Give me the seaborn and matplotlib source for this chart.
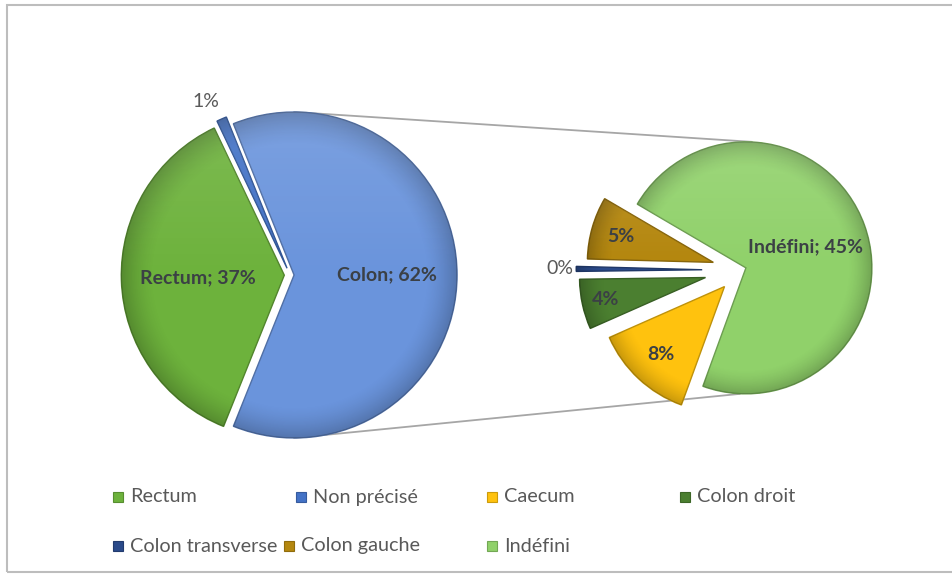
import numpy as np
import matplotlib
matplotlib.use("Agg")
import matplotlib.pyplot as plt
from matplotlib.patches import Rectangle
from matplotlib import colors as mcolors
import seaborn as sns

# ---- data -------------------------------------------------------------
main_labels = ["Rectum", "Non précisé", "Colon"]
sub_labels = ["Caecum", "Colon droit", "Colon transverse", "Colon gauche", "Indéfini"]
sub_values = [8, 4, 0.4, 5, 45]          # share of all cases, %
main_values = [37, 1, sum(sub_values)]   # colon = sum of its sub-sites

legend_labels = ["Rectum", "Non précisé", "Caecum", "Colon droit",
                 "Colon transverse", "Colon gauche", "Indéfini"]

# ---- style --------------------------------------------------------------
sns.set_theme(style="white")
plt.rcParams["font.family"] = ["Lato", "DejaVu Sans"]

palette = {
    "Rectum": "#6DB23C",
    "Non précisé": "#4372C6",
    "Colon": "#6A94DC",
    "Caecum": "#FFC20E",
    "Colon droit": "#4B7F30",
    "Colon transverse": "#2A4A8A",
    "Colon gauche": "#B4870F",
    "Indéfini": "#90D16A",
}

W, H = 953, 576
fig = plt.figure(figsize=(W / 100, H / 100), dpi=100)
ax = fig.add_axes([0, 0, 1, 1])


def Y(y):
    """pixel row (top-down) -> data y (bottom-up)"""
    return H - y


def darker(c, f=0.75):
    r, g, b = mcolors.to_rgb(c)
    return (r * f, g * f, b * f)


total = sum(main_values)

# ---- main pie -------------------------------------------------------------
C1, R1 = (290, Y(275)), 163
colon_span = main_values[2] / total * 360
explode1 = [0.035, 0.045, 0.025]
w1, _ = ax.pie(main_values, colors=[palette[l] for l in main_labels],
               startangle=360 - colon_span / 2, counterclock=False,
               radius=R1, center=C1, explode=[e * R1 for e in explode1],
               frame=True, wedgeprops=dict(linewidth=1.0))

# ---- breakdown pie ----------------------------------------------------------
C2, R2 = (740, Y(270)), 126
explode2 = [0.18, 0.28, 0.30, 0.22, 0.05]
w2, _ = ax.pie(sub_values, colors=[palette[l] for l in sub_labels],
               startangle=250, counterclock=False,
               radius=R2, center=C2, explode=[e * R2 for e in explode2],
               frame=True, wedgeprops=dict(linewidth=1.0))

for w, lab in zip(list(w1) + list(w2), main_labels + sub_labels):
    w.set_edgecolor(darker(palette[lab]))
    w.set_zorder(3)

# soft rim shading and top highlight on each wedge
yy, xx = np.mgrid[0:H, 0:W]
for wedges, R in ((w1, R1), (w2, R2)):
    for w in wedges:
        ex, ey = w.center
        rr = np.hypot(xx - ex, (H - yy) - ey) / R
        alpha = np.clip((rr - 0.80) / 0.20, 0, 1) ** 1.5 * 0.22
        top = np.clip(((H - yy) - ey) / R, -1, 1)
        img = np.zeros((H, W, 4))
        img[..., 3] = alpha
        hl = np.zeros((H, W, 4))
        hl[..., :3] = 1
        hl[..., 3] = np.clip(top, 0, 1) * 0.12
        for im in (img, hl):
            art = ax.imshow(im, extent=(0, W, 0, H), origin="upper",
                            zorder=3.5, interpolation="bilinear")
            art.set_clip_path(w)

# ---- connector lines between the two pies -------------------------------------
ie = w2[-1].center
ax.plot([C1[0] + 4, ie[0] + 6], [C1[1] + R1, ie[1] + R2], color="#A6A6A6", lw=1.3, zorder=1)
ax.plot([C1[0] + 4, ie[0] - 6], [C1[1] - R1, ie[1] - R2], color="#A6A6A6", lw=1.3, zorder=1)

# ---- data labels -----------------------------------------------------------------
def pct(v):
    return f"{v / total * 100:.0f}%"


def put(w, text, frac, bold, dx=0):
    mid = np.deg2rad((w.theta1 + w.theta2) / 2)
    x = w.center[0] + frac * w.r * np.cos(mid) + dx
    y = w.center[1] + frac * w.r * np.sin(mid)
    ax.text(x, y, text, ha="center", va="center", fontsize=14,
            fontweight="bold" if bold else "normal",
            color="#3B4045" if bold else "#595959", zorder=5)


main_fmt = [(0.53, True, True, 0), (1.12, False, False, -8), (0.57, True, True, 0)]
for w, lab, v, (frac, named, bold, dx) in zip(w1, main_labels, main_values, main_fmt):
    put(w, f"{lab}; {pct(v)}" if named else pct(v), frac, bold, dx)

sub_fmt = [(0.74, False, True, 0), (0.81, False, True, 0), (1.13, False, False, 0),
           (0.76, False, True, 0), (0.50, True, True, 0)]
for w, lab, v, (frac, named, bold, dx) in zip(w2, sub_labels, sub_values, sub_fmt):
    put(w, f"{lab}; {pct(v)}" if named else pct(v), frac, bold, dx)

# ---- legend --------------------------------------------------------------------
legend_slots = [(113, 497), (296, 497), (487, 497), (680, 497),
                (113, 546), (284, 546), (487, 546)]
for lab, (lx, ly) in zip(legend_labels, legend_slots):
    ax.add_patch(Rectangle((lx, Y(ly) - 5), 10, 10, facecolor=palette[lab],
                           edgecolor=darker(palette[lab], 0.8), lw=0.8, zorder=5))
    ax.text(lx + 17, Y(ly), lab, ha="left", va="center", fontsize=14.3,
            color="#595959", zorder=5)

# ---- chart frame ---------------------------------------------------------------
ax.add_patch(Rectangle((7, Y(572)), W + 10, 572 - 5, fill=False,
                       edgecolor="#BDBDBD", lw=1.5, zorder=0))

ax.set_xlim(0, W)
ax.set_ylim(0, H)
ax.set_aspect("equal")
ax.axis("off")

fig.savefig("out.png", dpi=100, facecolor="white")
